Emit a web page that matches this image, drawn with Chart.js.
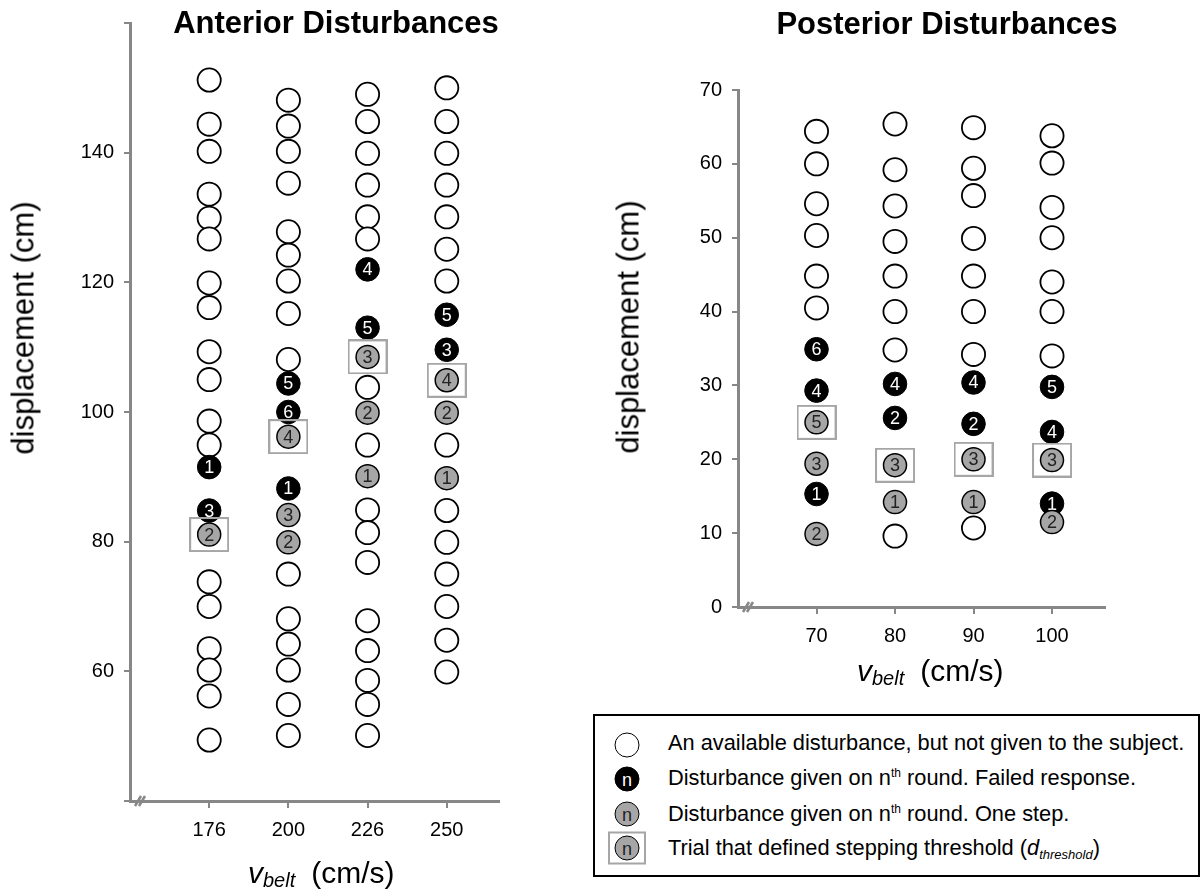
<!DOCTYPE html>
<html>
<head>
<meta charset="utf-8">
<title>Anterior and Posterior Disturbances</title>
<script src="https://cdn.jsdelivr.net/npm/chart.js"></script>
<style>
  body { margin: 0; background: #fff; font-family: 'Liberation Sans', Arial, sans-serif; color: #000; }
  #page { position: relative; width: 1202px; height: 892px; overflow: hidden; background: #fff; }
  .plot { position: absolute; }
  .title { position: absolute; font-weight: bold; font-size: 31px; line-height: 1; white-space: nowrap; transform: translateX(-50%); }
  .ytitle { position: absolute; font-size: 31px; line-height: 1; white-space: nowrap; transform: translate(-50%, -50%) rotate(-90deg); }
  .xtitle { position: absolute; font-size: 30px; line-height: 1; white-space: nowrap; }
  .xtitle .sub { font-size: 20px; position: relative; top: 4px; }
  .xtitle .unit { margin-left: 16px; }
  #legend { position: absolute; left: 593px; top: 714px; width: 607px; height: 163px; border: 2px solid #000; box-sizing: border-box; }
  .sym { position: absolute; width: 25px; height: 25px; border-radius: 50%; box-sizing: border-box; border: 1.8px solid #000;
         transform: translate(-50%, -50%); display: flex; align-items: center; justify-content: center; font-size: 18px; line-height: 1; }
  .sym.open { background: #fff; }
  .sym.failed { background: #000; color: #fff; }
  .sym.step { background: #a6a6a6; color: #222; }
  .frame { position: absolute; width: 38px; height: 33px; border: 2px solid #a6a6a6; box-sizing: border-box; transform: translate(-50%, -50%); }
  .ltext { position: absolute; left: 73px; font-size: 21.8px; line-height: 1; white-space: nowrap; }
  .ltext .sup { font-size: 12px; position: relative; top: -8px; }
  .ltext .dsub { font-size: 13px; position: relative; top: 4px; }
</style>
</head>
<body>
<div id="page">
  <div class="plot" style="left:0; top:0; width:560px; height:892px;"><canvas id="anterior"></canvas></div>
  <div class="plot" style="left:560px; top:0; width:642px; height:700px;"><canvas id="posterior"></canvas></div>

  <div class="title" style="left:336px; top:7px;">Anterior Disturbances</div>
  <div class="title" style="left:947px; top:8px;">Posterior Disturbances</div>

  <div class="ytitle" style="left:23px; top:328px;">displacement (cm)</div>
  <div class="ytitle" style="left:628px; top:327px;">displacement (cm)</div>

  <div class="xtitle" style="left:248px; top:858px;"><i>v</i><i class="sub">belt</i><span class="unit">(cm/s)</span></div>
  <div class="xtitle" style="left:857px; top:656px;"><i>v</i><i class="sub">belt</i><span class="unit">(cm/s)</span></div>

  <div id="legend">
    <div class="sym open" style="left:32px; top:29px;"></div>
    <div class="ltext" style="top:16px;">An available disturbance, but not given to the subject.</div>
    <div class="sym failed" style="left:32px; top:63px;">n</div>
    <div class="ltext" style="top:51px;">Disturbance given on n<span class="sup">th</span> round. Failed response.</div>
    <div class="sym step" style="left:32px; top:98px;">n</div>
    <div class="ltext" style="top:87px;">Disturbance given on n<span class="sup">th</span> round. One step.</div>
    <div class="sym step" style="left:32px; top:132px;">n</div>
    <div class="frame" style="left:32px; top:132px;"></div>
    <div class="ltext" style="top:121px;">Trial that defined stepping threshold (<i>d</i><i class="dsub">threshold</i>)</div>
  </div>
</div>

<script>
// ---- Anterior disturbances, v_belt categories in cm/s ----
const antCategories = ['176', '200', '226', '250'];
const antTicks = [40, 60, 80, 100, 120, 140, 160];
const antTickLabels = ['', '60', '80', '100', '120', '140', ''];
// available (not given) disturbances, one list per category
const antAvailable = [
  [151.2, 144.4, 140.2, 133.6, 129.9, 126.7, 119.9, 116.1, 109.3, 105.0, 98.6, 94.9, 73.8, 70.0, 63.5, 60.2, 56.2, 49.4],
  [148.1, 144.1, 140.2, 135.3, 127.8, 124.2, 120.2, 115.2, 108.1, 75.0, 68.1, 64.2, 60.2, 54.9, 50.1],
  [149.0, 144.8, 139.9, 135.0, 130.1, 126.7, 103.8, 94.9, 84.9, 81.4, 76.8, 67.8, 63.2, 58.6, 54.9, 50.1],
  [150.0, 144.8, 139.9, 135.0, 130.1, 125.1, 120.2, 94.9, 84.8, 79.9, 75.0, 70.0, 64.8, 59.9]
];
// failed responses and the round they were given on
const antFailed = [[91.5, 84.8], [104.4, 100.0, 88.2], [122.0, 113.0], [115.0, 109.6]];
const antFailedRound = [[1, 3], [5, 6, 1], [4, 5], [5, 3]];
// one-step responses and their round
const antStep = [[81.1], [96.2, 84.1, 79.9], [108.5, 99.9, 90.1], [104.9, 99.9, 89.8]];
const antStepRound = [[2], [4, 3, 2], [3, 2, 1], [4, 2, 1]];
// trial that defined d_threshold
const antThreshold = [81.1, 96.2, 108.5, 104.9];

// ---- Posterior disturbances ----
const postCategories = ['70', '80', '90', '100'];
const postTicks = [0, 10, 20, 30, 40, 50, 60, 70];
const postTickLabels = ['0', '10', '20', '30', '40', '50', '60', '70'];
const postAvailable = [
  [64.4, 60.0, 54.6, 50.3, 44.8, 40.5],
  [65.4, 59.2, 54.3, 49.5, 44.8, 40.0, 34.8, 9.6],
  [64.9, 59.4, 55.7, 49.9, 44.8, 40.0, 34.2, 10.7],
  [63.8, 60.1, 54.1, 50.0, 44.0, 40.0, 34.0]
];
const postFailed = [[34.9, 29.3, 15.3], [30.2, 25.6], [30.4, 24.8], [29.8, 23.7, 14.0]];
const postFailedRound = [[6, 4, 1], [4, 2], [4, 2], [5, 4, 1]];
const postStep = [[25.0, 19.4, 9.9], [19.2, 14.2], [20.0, 14.2], [19.9, 11.5]];
const postStepRound = [[5, 3, 2], [3, 1], [3, 1], [3, 2]];
const postThreshold = [25.0, 19.2, 20.0, 19.9];

const FONT = "'Liberation Sans', Arial, sans-serif";
const AXIS = '#878787';
const STEP_FILL = '#a6a6a6';

// threshold frame drawn as an image point style
const frame = document.createElement('canvas');
frame.width = 40; frame.height = 35;
(function () {
  const c = frame.getContext('2d');
  c.strokeStyle = STEP_FILL;
  c.lineWidth = 2;
  c.strokeRect(1, 1, 38, 33);
})();

function toPoints(cols) {
  const out = [];
  cols.forEach((vals, i) => vals.forEach(v => out.push({ x: i + 1, y: v })));
  return out;
}

// write the round number inside each marker
const roundLabels = {
  id: 'roundLabels',
  afterDatasetDraw(chart, args) {
    const ds = chart.data.datasets[args.index];
    if (!ds.rounds) return;
    const ctx = chart.ctx;
    ctx.save();
    ctx.font = '18px ' + FONT;
    ctx.fillStyle = ds.labelColor;
    ctx.textAlign = 'center';
    ctx.textBaseline = 'middle';
    args.meta.data.forEach((pt, i) => ctx.fillText(String(ds.rounds[i]), pt.x, pt.y + 1));
    ctx.restore();
  }
};

// little "//" break at the origin
const axisBreak = {
  id: 'axisBreak',
  afterDraw(chart) {
    const { ctx, chartArea } = chart;
    ctx.save();
    ctx.strokeStyle = AXIS;
    ctx.lineWidth = 2.5;
    [8, 12].forEach(dx => {
      ctx.beginPath();
      ctx.moveTo(chartArea.left + dx - 3, chartArea.bottom + 5);
      ctx.lineTo(chartArea.left + dx + 3, chartArea.bottom - 5);
      ctx.stroke();
    });
    ctx.restore();
  }
};

function makeChart(id, cfg) {
  const datasets = [
    {
      label: 'threshold',
      data: cfg.threshold.map((v, i) => ({ x: i + 1, y: v })),
      pointStyle: frame
    },
    {
      label: 'one step',
      data: toPoints(cfg.step),
      rounds: cfg.stepRound.flat(),
      labelColor: '#222',
      pointRadius: 11.5,
      pointBackgroundColor: STEP_FILL,
      pointBorderColor: '#000',
      pointBorderWidth: 1.5
    },
    {
      label: 'failed',
      data: toPoints(cfg.failed),
      rounds: cfg.failedRound.flat(),
      labelColor: '#fff',
      pointRadius: 11.8,
      pointBackgroundColor: '#000',
      pointBorderColor: '#000',
      pointBorderWidth: 1
    },
    {
      label: 'available',
      data: toPoints(cfg.available),
      pointRadius: 11.6,
      pointBackgroundColor: '#fff',
      pointBorderColor: '#000',
      pointBorderWidth: 1.8
    }
  ];

  return new Chart(document.getElementById(id), {
    type: 'scatter',
    data: { datasets },
    options: {
      responsive: true,
      maintainAspectRatio: false,
      animation: false,
      events: [],
      layout: { padding: cfg.padding },
      plugins: { legend: { display: false }, tooltip: { enabled: false } },
      scales: {
        x: {
          type: 'linear',
          min: 0,
          max: cfg.xMax,
          afterBuildTicks: s => { s.ticks = cfg.categories.map((c, i) => ({ value: i + 1 })); },
          afterFit: s => { s.height = cfg.xHeight; },
          ticks: {
            autoSkip: false, maxRotation: 0, padding: 10, color: '#000',
            font: { family: FONT, size: 20 },
            callback: (v, i) => cfg.categories[i]
          },
          grid: { drawOnChartArea: false, tickLength: 7, color: AXIS, lineWidth: 2 },
          border: { color: AXIS, width: 3 }
        },
        y: {
          type: 'linear',
          min: cfg.ticks[0],
          max: cfg.ticks[cfg.ticks.length - 1],
          afterBuildTicks: s => { s.ticks = cfg.ticks.map(v => ({ value: v })); },
          afterFit: s => { s.width = cfg.yWidth; },
          ticks: {
            autoSkip: false, padding: 10, color: '#000',
            font: { family: FONT, size: 20 },
            callback: (v, i) => cfg.tickLabels[i]
          },
          grid: { drawOnChartArea: false, tickLength: 6, color: AXIS, lineWidth: 2 },
          border: { color: AXIS, width: 3 }
        }
      }
    },
    plugins: [roundLabels, axisBreak]
  });
}

makeChart('anterior', {
  categories: antCategories, ticks: antTicks, tickLabels: antTickLabels,
  available: antAvailable, failed: antFailed, failedRound: antFailedRound,
  step: antStep, stepRound: antStepRound, threshold: antThreshold,
  xMax: 4.66, yWidth: 130, xHeight: 91,
  padding: { top: 23, right: 61, bottom: 0, left: 0 }
});

makeChart('posterior', {
  categories: postCategories, ticks: postTicks, tickLabels: postTickLabels,
  available: postAvailable, failed: postFailed, failedRound: postFailedRound,
  step: postStep, stepRound: postStepRound, threshold: postThreshold,
  xMax: 4.675, yWidth: 178, xHeight: 93,
  padding: { top: 90, right: 97, bottom: 0, left: 0 }
});
</script>
</body>
</html>
